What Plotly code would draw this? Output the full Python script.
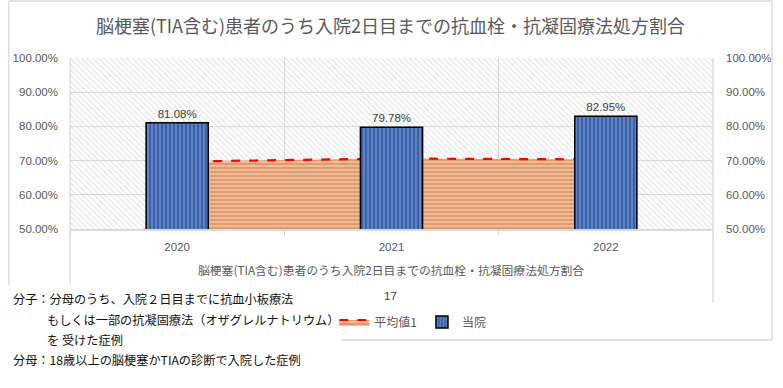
import plotly.graph_objects as go

# ---------------- data ----------------
categories = ["2020", "2021", "2022"]
hospital_values = [0.8108, 0.7978, 0.8295]      # 当院
average_values = [0.697, 0.706, 0.7035]          # 平均値1
y_ticks = [0.5, 0.6, 0.7, 0.8, 0.9, 1.0]
Y_MIN, Y_MAX = 0.5, 1.0

title_text = "脳梗塞(TIA含む)患者のうち入院2日目までの抗血栓・抗凝固療法処方割合"
xaxis_title_text = "脳梗塞(TIA含む)患者のうち入院2日目までの抗血栓・抗凝固療法処方割合"
note_lines = [
    "分子：分母のうち、入院２日目までに抗血小板療法",
    "もしくは一部の抗凝固療法（オザグレルナトリウム）",
    "を 受けた症例",
    "分母：18歳以上の脳梗塞かTIAの診断で入院した症例",
]
stray_label = "17"

# ---------------- layout helpers ----------------
W, H = 783, 388
L, R, T, B = 70, 61, 58, 159
PW, PH = W - L - R, H - T - B


def px(x):
    return (x - L) / PW


def py(y):
    return (H - B - y) / PH


JP = "Noto Sans CJK JP"
NUM = "Liberation Sans"
GRAY = "#595959"
GRID = "#D9D9D9"

fig = go.Figure()

# hatched plot-area background (decoration on hidden axis)
fig.add_trace(go.Bar(
    x=[0.5], y=[Y_MAX - Y_MIN], base=[Y_MIN], width=[1],
    xaxis="x", yaxis="y",
    marker=dict(color="rgba(0,0,0,0)", line=dict(width=0),
                pattern=dict(shape="\\", fgcolor="#C9C9C9", bgcolor="rgba(0,0,0,0)",
                             size=4, solidity=0.3)),
    showlegend=False, hoverinfo="skip",
))

# average area
fig.add_trace(go.Scatter(
    x=categories, y=average_values, name="平均値1",
    xaxis="x2", yaxis="y",
    mode="lines", fill="tozeroy",
    line=dict(color="#FF0000", width=2.2, dash="dash"),
    fillcolor="#E29A6A",
    fillpattern=dict(shape="-", fgcolor="#CC763E", bgcolor="#F0C09C", size=4, solidity=0.55),
))

# hospital bars
fig.add_trace(go.Bar(
    x=categories, y=hospital_values, name="当院",
    xaxis="x2", yaxis="y2",
    width=0.29,
    marker=dict(color="#3B64AE", line=dict(color="#000000", width=1.5),
                pattern=dict(shape="|", fgcolor="#B4C7EA", bgcolor="#3961AC", size=4, solidity=0.33)),
    text=[f"{v:.2%}" for v in hospital_values],
    textposition="outside",
    textfont=dict(family=NUM, size=11.5, color="#404040"),
    cliponaxis=False,
    hoverinfo="y",
))

shapes = []


def vline(x, y0, y1):
    shapes.append(dict(type="line", xref="paper", yref="paper",
                       x0=px(x), x1=px(x), y0=py(y0), y1=py(y1),
                       line=dict(color=GRID, width=1.3)))


def hline(y, x0, x1):
    shapes.append(dict(type="line", xref="paper", yref="paper",
                       x0=px(x0), x1=px(x1), y0=py(y), y1=py(y),
                       line=dict(color=GRID, width=1.3)))


# chart outer border (partly hidden by the note box)
vline(8, 1, 285)
hline(1, 8, 782)
vline(782, 1, 340)
hline(340, 345, 782)
# plot edge lines extending below plot
vline(L, T, 285)
vline(W - R, T, 303)

annotations = [
    dict(text=xaxis_title_text, xref="paper", yref="paper", x=px(395), y=py(269),
         xanchor="center", yanchor="middle", showarrow=False,
         font=dict(family=JP, size=11.8, color=GRAY)),
    dict(text=stray_label, xref="paper", yref="paper", x=px(395), y=py(296),
         xanchor="center", yanchor="middle", showarrow=False,
         font=dict(family=NUM, size=11.5, color="#404040")),
]
note_pos = [(10, 299), (45, 320), (45, 340), (10, 360)]
for txt, (nx, ny) in zip(note_lines, note_pos):
    annotations.append(dict(text=txt, xref="paper", yref="paper", x=px(nx), y=py(ny),
                            xanchor="left", yanchor="middle", showarrow=False,
                            font=dict(family=JP, size=12.2, color="#111111")))

fig.update_layout(
    width=W, height=H,
    margin=dict(l=L, r=R, t=T, b=B),
    paper_bgcolor="white", plot_bgcolor="white",
    barmode="overlay",
    title=dict(text=title_text, x=px(395), xref="paper", xanchor="center",
               y=1 - 27 / H, yref="container", yanchor="middle",
               font=dict(family=JP, size=18, color=GRAY)),
    xaxis=dict(range=[0, 1], visible=False, fixedrange=True),
    xaxis2=dict(type="category", categoryorder="array", categoryarray=categories,
                overlaying="x", anchor="y", side="bottom",
                range=[-0.5, 2.5],
                tickson="boundaries", ticks="outside", ticklen=5, tickcolor=GRID,
                showgrid=True, gridcolor=GRID, gridwidth=1.3,
                showline=True, linecolor=GRID, linewidth=1.5,
                ticklabelstandoff=6,
                tickfont=dict(family=NUM, size=11.5, color=GRAY)),
    yaxis=dict(range=[Y_MIN, Y_MAX], tickvals=y_ticks, tickformat=".2%",
               showgrid=True, gridcolor=GRID, gridwidth=1.3, zeroline=False,
               showline=False, ticks="", ticklabelstandoff=11,
               tickfont=dict(family=NUM, size=11.5, color=GRAY)),
    yaxis2=dict(range=[Y_MIN, Y_MAX], tickvals=y_ticks, tickformat=".2%",
                overlaying="y", side="right", anchor="x",
                showgrid=False, zeroline=False, showline=False, ticks="",
                ticklabelstandoff=12,
                tickfont=dict(family=NUM, size=11.5, color=GRAY)),
    legend=dict(orientation="h", x=px(338), xanchor="left", y=py(322), yanchor="middle",
                font=dict(family=JP, size=12, color=GRAY), itemwidth=30,
                bgcolor="rgba(0,0,0,0)", traceorder="normal"),
    shapes=shapes,
    annotations=annotations,
)

fig.write_html("out.html", config={"displayModeBar": False},
               post_script="document.body.style.margin='0';")
